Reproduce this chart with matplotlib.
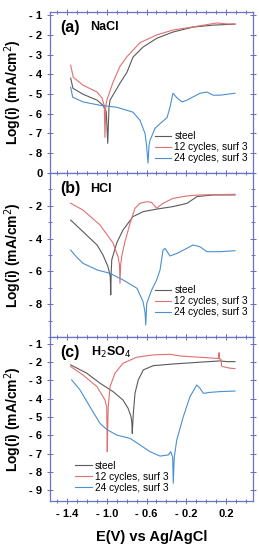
import matplotlib
matplotlib.use("Agg")
import matplotlib.pyplot as plt
from matplotlib.ticker import FixedLocator, FixedFormatter, MultipleLocator

plt.rcParams['font.family'] = ['Liberation Sans', 'DejaVu Sans']

# ---- data (E in V vs Ag/AgCl, log i) ----
labels = ["steel", "12 cycles, surf 3", "24 cycles, surf 3"]
colors = ["#5a5a5a", "#e07070", "#4a8fd0"]

# (a) NaCl
a_E_steel = [-1.363, -1.340, -1.239, -1.098, -1.038, -1.005, -0.990, -0.978, -0.967, -0.867,
             -0.796, -0.736, -0.635, -0.495, -0.334, -0.132, 0.069, 0.290]
a_steel = [-4.20, -4.71, -5.01, -5.31, -5.57, -5.90, -7.50, -5.70, -5.31, -4.45,
           -3.89, -3.13, -2.62, -2.17, -1.86, -1.61, -1.51, -1.46]
a_E_12 = [-1.363, -1.337, -1.239, -1.098, -1.048, -1.025, -1.018, -1.010, -0.998, -0.937,
          -0.867, -0.796, -0.666, -0.495, -0.334, -0.132, 0.109, 0.210, 0.290]
a_12 = [-3.54, -4.15, -4.55, -4.90, -5.20, -5.60, -7.20, -5.60, -5.30, -4.40,
        -3.60, -3.10, -2.40, -2.00, -1.76, -1.60, -1.40, -1.45, -1.45]
a_E_24 = [-1.363, -1.343, -1.239, -1.068, -0.900, -0.736, -0.666, -0.615, -0.600, -0.585,
          -0.575, -0.565, -0.515, -0.464, -0.394, -0.364, -0.334, -0.293, -0.243, -0.193,
          -0.062, 0.008, 0.069, 0.139, 0.290]
a_24 = [-4.65, -5.16, -5.40, -5.57, -5.67, -5.92, -6.33, -7.00, -7.60, -8.50,
        -7.60, -7.35, -6.74, -6.50, -6.20, -5.67, -4.96, -5.20, -5.40, -5.31,
        -4.96, -4.90, -5.06, -5.06, -4.96]

# (b) HCl
b_E_steel = [-1.363, -1.239, -1.098, -1.038, -0.988, -0.965, -0.960, -0.955, -0.950, -0.900,
             -0.837, -0.736, -0.635, -0.495, -0.334, -0.193, -0.092, 0.069, 0.290]
b_steel = [-2.87, -3.58, -4.39, -5.00, -5.71, -6.30, -7.44, -6.00, -5.30, -4.27,
           -3.48, -2.66, -2.36, -2.20, -2.05, -1.85, -1.44, -1.34, -1.34]
b_E_12 = [-1.363, -1.239, -1.068, -0.937, -0.887, -0.872, -0.867, -0.860, -0.850, -0.817,
          -0.766, -0.716, -0.666, -0.598, -0.548, -0.498, -0.434, -0.334, -0.193, -0.062, 0.290]
b_12 = [-1.85, -2.26, -3.17, -4.27, -5.10, -5.60, -6.73, -5.60, -5.10, -4.19,
        -3.07, -2.15, -1.85, -1.75, -1.80, -2.15, -1.85, -1.55, -1.40, -1.34, -1.30]
b_E_24 = [-1.363, -1.302, -1.239, -1.098, -0.967, -0.837, -0.696, -0.635, -0.615, -0.608,
          -0.598, -0.548, -0.498, -0.464, -0.434, -0.414, -0.364, -0.293, -0.193, -0.132,
          -0.062, 0.008, 0.139, 0.290]
b_24 = [-4.70, -5.14, -5.51, -5.91, -6.12, -6.52, -7.03, -7.85, -8.50, -9.27,
        -7.95, -7.13, -6.52, -5.91, -4.70, -4.60, -5.06, -4.90, -4.59, -4.39,
        -4.50, -4.80, -4.80, -4.74]

# (c) H2SO4
c_E_steel = [-1.363, -1.202, -1.068, -0.937, -0.837, -0.786, -0.756, -0.748, -0.743, -0.738,
             -0.733, -0.716, -0.683, -0.632, -0.532, -0.334, -0.062, 0.139, 0.210, 0.290]
c_steel = [-2.15, -2.60, -3.15, -3.61, -4.07, -4.52, -4.98, -5.30, -5.90, -5.30,
           -4.80, -3.70, -2.97, -2.42, -2.19, -2.10, -2.00, -1.93, -1.97, -1.97]
c_E_12 = [-1.363, -1.239, -1.098, -1.018, -1.001, -0.998, -0.995, -0.990, -0.985, -0.967,
          -0.917, -0.837, -0.699, -0.532, -0.364, -0.263, -0.062, 0.106, 0.126, 0.129,
          0.132, 0.150, 0.155, 0.166, 0.240, 0.290]
c_12 = [-2.24, -2.70, -3.34, -4.07, -4.44, -5.50, -6.90, -5.50, -4.44, -3.34,
        -2.60, -2.06, -1.73, -1.60, -1.57, -1.66, -1.73, -1.79, -1.80, -1.48,
        -1.82, -1.85, -2.20, -2.24, -2.33, -2.35]
c_E_24 = [-1.353, -1.269, -1.169, -1.068, -1.001, -0.900, -0.766, -0.666, -0.565, -0.464,
          -0.381, -0.357, -0.337, -0.331, -0.321, -0.296, -0.230, -0.163, -0.095, -0.062,
          -0.029, -0.012, 0.022, 0.139, 0.290]
c_24 = [-2.97, -3.52, -4.44, -5.35, -5.68, -5.99, -6.17, -6.53, -6.90, -7.14,
        -7.08, -6.90, -7.20, -8.63, -7.20, -6.26, -4.98, -3.89, -3.25, -3.43,
        -3.70, -3.70, -3.66, -3.61, -3.58]

x_ticks = [-1.4, -1.0, -0.6, -0.2, 0.2]
x_ticklabels = ["- 1.4", "- 1.0", "- 0.6", "- 0.2", "0.2"]
a_yticks = [-1, -2, -3, -4, -5, -6, -7, -8]
b_yticks = [0, -2, -4, -6, -8]
c_yticks = [-1, -2, -3, -4, -5, -6, -7, -8, -9]

frame = "#6a72c2"

fig = plt.figure(figsize=(2.59, 5.5), dpi=100)
L, W = 50 / 259, 203 / 259
axa = fig.add_axes([L, 0.6855, W, 0.978 - 0.6855])
axb = fig.add_axes([L, 0.3873, W, 0.6855 - 0.3873])
axc = fig.add_axes([L, 0.0891, W, 0.3873 - 0.0891])

panels = [
    (axa, [(a_E_steel, a_steel), (a_E_12, a_12), (a_E_24, a_24)], (-9, -0.85), a_yticks,
     "(a)", "NaCl", "lower right", (1.0, 0.03)),
    (axb, [(b_E_steel, b_steel), (b_E_12, b_12), (b_E_24, b_24)], (-10, 0), b_yticks,
     "(b)", "HCl", "lower right", (1.0, 0.09)),
    (axc, [(c_E_steel, c_steel), (c_E_12, c_12), (c_E_24, c_24)], (-9.6, -0.62), c_yticks,
     "(c)", "H$_2$SO$_4$", "lower left", (0.1, 0.02)),
]

for ax, series, ylim, yt, tag, name, lloc, lpos in panels:
    for (e, v), lab, col in zip(series, labels, colors):
        ax.plot(e, v, color=col, lw=0.8, label=lab)
    ax.set_xlim(-1.571, 0.471)
    ax.set_ylim(*ylim)
    ax.yaxis.set_major_locator(FixedLocator(yt))
    ax.yaxis.set_major_formatter(FixedFormatter([("- %d" % -t) if t < 0 else "%d" % t for t in yt]))
    ax.yaxis.set_minor_locator(MultipleLocator(1))
    ax.xaxis.set_major_locator(FixedLocator(x_ticks))
    ax.xaxis.set_minor_locator(MultipleLocator(0.1))
    if ax is axc:
        ax.xaxis.set_major_formatter(FixedFormatter(x_ticklabels))
    else:
        ax.set_xticklabels([])
    ax.tick_params(which="both", direction="inout", top=True, right=True, color=frame,
                   length=4, width=0.7, labelsize=8)
    ax.tick_params(which="minor", length=3)
    for lab in ax.get_yticklabels() + ax.get_xticklabels():
        lab.set_fontweight("bold")
    for s in ax.spines.values():
        s.set_color(frame)
        s.set_linewidth(0.9)
    ax.set_ylabel("Log(i) (mA/cm$^2$)", fontsize=10, fontweight="bold")
    ax.yaxis.set_label_coords(-0.13, 0.5)
    ax.text(0.05, 0.905, tag, transform=ax.transAxes, fontsize=11.5, fontweight="bold", va="center")
    ax.text(0.2, 0.905, name, transform=ax.transAxes, fontsize=9, fontweight="bold", va="center")
    ax.legend(loc=lloc, bbox_to_anchor=lpos, frameon=False, fontsize=7.3, handlelength=1.6,
              handletextpad=0.3, labelspacing=0.1, borderaxespad=0.1)

axc.set_xlabel("E(V) vs Ag/AgCl", fontsize=10.5, fontweight="bold", labelpad=8)

fig.savefig("out.png", dpi=100)
